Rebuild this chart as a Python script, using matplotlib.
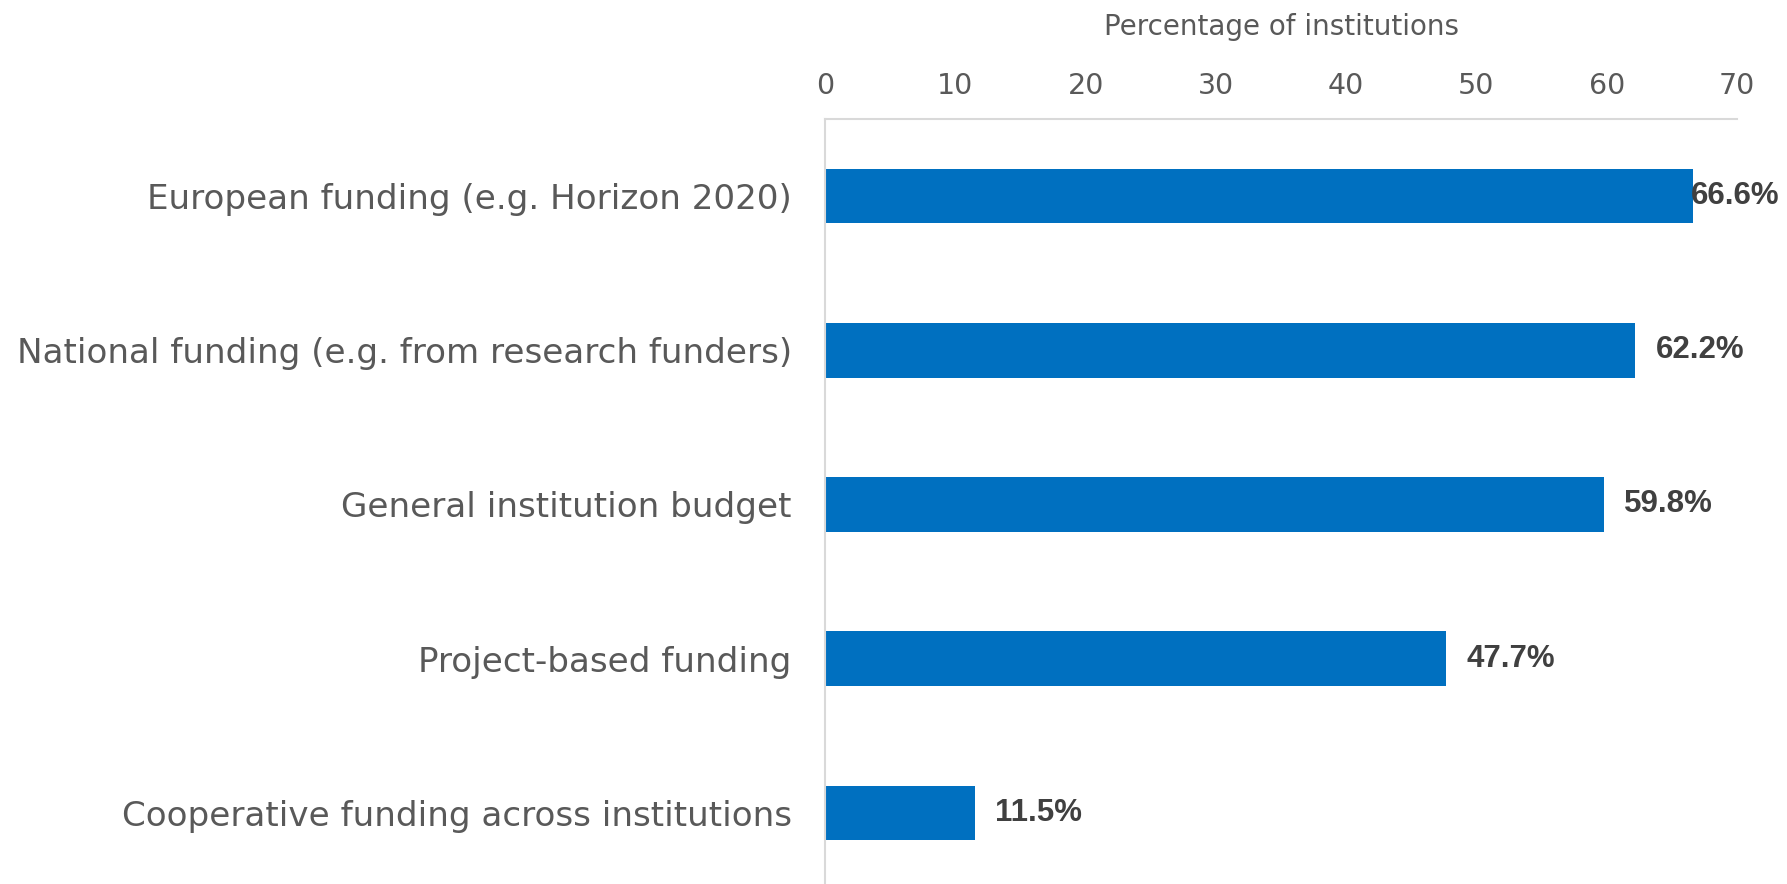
import matplotlib
matplotlib.use("Agg")
import matplotlib.pyplot as plt

categories = [
    "European funding (e.g. Horizon 2020)",
    "National funding (e.g. from research funders)",
    "General institution budget",
    "Project-based funding",
    "Cooperative funding across institutions",
]
values = [66.6, 62.2, 59.8, 47.7, 11.5]
xticks = [0, 10, 20, 30, 40, 50, 60, 70]

BAR = "#0070C0"
GRAY = "#595959"
LINE = "#D9D9D9"
W, H, DPI = 1787, 884, 100

fig = plt.figure(figsize=(W / DPI, H / DPI), dpi=DPI)
ax = fig.add_axes([825 / W, -6 / H, (1737 - 825) / W, (890 - 119) / H])

y = list(range(len(categories)))
ax.barh(y, values, height=0.355, color=BAR, zorder=2)
ax.set_ylim(len(categories) - 0.5, -0.5)
ax.set_xlim(0, 70)
ax.set_yticks(y)
ax.set_yticklabels(categories, fontsize=24.6, color=GRAY)
ax.set_xticks(xticks)
ax.set_xticklabels([str(t) for t in xticks], fontsize=20.5, color=GRAY)
ax.xaxis.tick_top()
ax.xaxis.set_label_position("top")
ax.set_xlabel("Percentage of institutions", fontsize=20, color=GRAY, labelpad=26)
ax.tick_params(axis="x", length=0, pad=14)
ax.tick_params(axis="y", length=0, pad=24)
for s in ["right", "bottom"]:
    ax.spines[s].set_visible(False)
for s in ["top", "left"]:
    ax.spines[s].set_color(LINE)
    ax.spines[s].set_linewidth(1.5)

# value labels, pushed back inside the figure when they would run off
labels = []
for yi, v in zip(y, values):
    t = ax.annotate(f"{v:.1f}%", xy=(v, yi), xytext=(14.4, 0), textcoords="offset points",
                    va="center", ha="left", fontsize=22.5, color="#404040",
                    family="Liberation Sans", fontweight="bold", annotation_clip=False)
    labels.append(t)

fig.canvas.draw()
r = fig.canvas.get_renderer()
limit = W - 8
for t in labels:
    bb = t.get_window_extent(r)
    if bb.x1 > limit:
        ox, oy = t.xyann
        t.xyann = (ox - (bb.x1 - limit) * 72 / DPI, oy)

fig.savefig("out.png", dpi=DPI)
